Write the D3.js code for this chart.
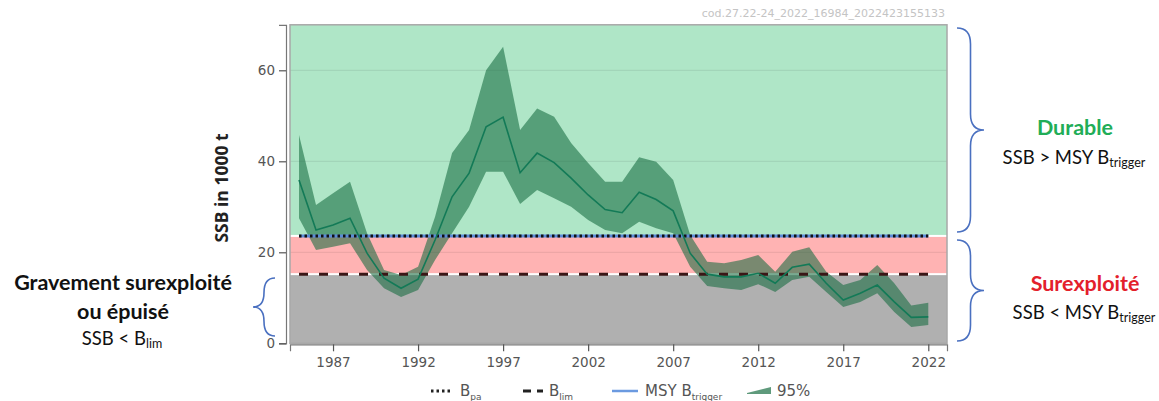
<!DOCTYPE html>
<html>
<head>
<meta charset="utf-8">
<script src="https://cdn.jsdelivr.net/npm/d3@7"></script>
<style>
  body { margin: 0; background: #fff; }
  svg { display: block; }
</style>
</head>
<body>
<svg id="chart"></svg>
<script>
'use strict';

// SSB estimates (1000 t) with 95% bounds
var years = [1985, 1986, 1987, 1988, 1989, 1990, 1991, 1992, 1993, 1994,
             1995, 1996, 1997, 1998, 1999, 2000, 2001, 2002, 2003, 2004,
             2005, 2006, 2007, 2008, 2009, 2010, 2011, 2012, 2013, 2014,
             2015, 2016, 2017, 2018, 2019, 2020, 2021, 2022];
var ssb = [35.9, 24.9, 26.0, 27.5, 19.8, 14.3, 12.1, 14.1, 22.7, 32.2,
           37.4, 47.6, 49.7, 37.5, 41.8, 39.7, 36.3, 32.6, 29.4, 28.7,
           33.2, 31.6, 29.1, 19.8, 15.2, 14.6, 14.6, 15.4, 13.2, 16.7,
           17.4, 13.2, 9.5, 11.0, 12.8, 9.1, 5.7, 5.8];
var ssbLow = [27.5, 20.5, 21.2, 22.0, 16.1, 12.1, 10.2, 11.7, 18.3, 24.2,
              30.0, 37.7, 37.7, 30.6, 33.7, 31.9, 30.0, 27.1, 24.9, 24.2,
              26.7, 25.3, 24.2, 16.8, 12.6, 12.1, 11.7, 13.0, 11.3, 13.9,
              14.6, 11.3, 8.0, 9.1, 11.0, 6.9, 3.6, 4.0];
var ssbHigh = [45.8, 30.4, 33.0, 35.5, 24.2, 16.1, 15.0, 16.8, 27.8, 41.8,
               46.9, 60.0, 65.2, 46.9, 51.6, 49.8, 44.0, 39.6, 35.5, 35.5,
               40.9, 39.9, 35.9, 23.8, 17.9, 17.6, 18.3, 19.4, 15.7, 20.1,
               21.1, 15.7, 12.8, 13.9, 17.2, 13.2, 8.3, 8.9];

// reference points
var bLim = 15.2;
var bPa = 23.6;
var msyBtrigger = 23.6;

var xTicks = [1987, 1992, 1997, 2002, 2007, 2012, 2017, 2022];
var yTicks = [0, 20, 40, 60];

var width = 1159,
    height = 401;

var x = d3.scaleLinear().domain([1984.47, 2023.1]).range([290, 947]);
var y = d3.scaleLinear().domain([0, 70]).range([343.3, 24.8]);

var svg = d3.select("#chart")
            .attr("width", width)
            .attr("height", height);

// watermark
svg.append("text")
    .attr("x", 945).attr("y", 17)
    .attr("text-anchor", "end")
    .style("font", "11px 'DejaVu Sans', sans-serif")
    .style("fill", "#c4c4c4")
    .text("cod.27.22-24_2022_16984_2022423155133");

// status zones
var zones = [
    { lo: bPa, hi: 70, fill: "#afe6c7" },
    { lo: bLim, hi: bPa, fill: "#ffb3b3" },
    { lo: 0, hi: bLim, fill: "#b0b0b0" }
];
svg.selectAll(".zone")
    .data(zones)
  .enter().append("rect")
    .attr("class", "zone")
    .attr("x", x(1984.47))
    .attr("width", x(2023.1) - x(1984.47))
    .attr("y", function(d) { return y(d.hi) + (d.hi < 70 ? 1 : 0); })
    .attr("height", function(d) { return y(d.lo) - y(d.hi) - (d.hi < 70 ? 1 : 0) - (d.lo > 0 ? 1 : 0); })
    .style("fill", function(d) { return d.fill; });

// grid
svg.selectAll(".grid")
    .data(yTicks.slice(1))
  .enter().append("line")
    .attr("class", "grid")
    .attr("x1", x(1984.47)).attr("x2", x(2023.1))
    .attr("y1", function(d) { return y(d); })
    .attr("y2", function(d) { return y(d); })
    .style("stroke", "rgba(0,0,0,0.09)")
    .style("stroke-width", 1);

// frame
svg.append("rect")
    .attr("x", x(1984.47)).attr("y", y(70))
    .attr("width", x(2023.1) - x(1984.47))
    .attr("height", y(0) - y(70))
    .style("fill", "none")
    .style("stroke", "#a8a8a8")
    .style("stroke-width", 1.5);

// confidence band
var area = d3.area()
    .x(function(d, i) { return x(years[i]); })
    .y0(function(d, i) { return y(ssbLow[i]); })
    .y1(function(d, i) { return y(ssbHigh[i]); });

svg.append("path")
    .attr("d", area(years))
    .style("fill", "rgb(20,105,62)")
    .style("fill-opacity", 0.57);

// reference lines
svg.append("line")
    .attr("x1", x(years[0])).attr("x2", x(years[years.length - 1]))
    .attr("y1", y(msyBtrigger)).attr("y2", y(msyBtrigger))
    .style("stroke", "#5b8ad8").style("stroke-width", 3);
svg.append("line")
    .attr("x1", x(years[0])).attr("x2", x(years[years.length - 1]))
    .attr("y1", y(bPa)).attr("y2", y(bPa))
    .style("stroke", "#111").style("stroke-width", 3)
    .style("stroke-dasharray", "2.5,3");
svg.append("line")
    .attr("x1", x(years[0])).attr("x2", x(years[years.length - 1]))
    .attr("y1", y(bLim)).attr("y2", y(bLim))
    .style("stroke", "#3a1616").style("stroke-width", 3)
    .style("stroke-dasharray", "9,11");

// median line
var line = d3.line()
    .x(function(d, i) { return x(years[i]); })
    .y(function(d) { return y(d); });

svg.append("path")
    .attr("d", line(ssb))
    .style("fill", "none")
    .style("stroke", "#137a57")
    .style("stroke-width", 1.6);

// axes
var xAxis = svg.append("g")
    .attr("transform", "translate(0," + (y(0) + 1) + ")")
    .call(d3.axisBottom(x).tickValues(xTicks).tickFormat(d3.format("d")).tickSize(7).tickPadding(6));
var yAxis = svg.append("g")
    .attr("transform", "translate(" + (x(1984.47) - 4) + ",0)")
    .call(d3.axisLeft(y).tickValues(yTicks).tickSize(7).tickPadding(4));

[xAxis, yAxis].forEach(function(a) {
    a.select(".domain").style("stroke", "#777").style("stroke-width", 1.2);
    a.selectAll(".tick line").style("stroke", "#555").style("stroke-width", 1.2);
    a.selectAll("text")
        .style("font-family", "'DejaVu Sans', sans-serif")
        .style("font-size", "13.5px")
        .style("fill", "#555");
});

svg.append("text")
    .attr("transform", "translate(228,188) rotate(-90)")
    .attr("text-anchor", "middle")
    .style("font", "bold 17.5px 'Open Sans', sans-serif")
    .style("fill", "#222")
    .text("SSB in 1000 t");

// legend
var legendY = 391;
var lg = svg.append("g")
    .style("font-family", "'DejaVu Sans', sans-serif")
    .style("font-size", "15px")
    .style("fill", "#555");

lg.append("line").attr("x1", 431).attr("x2", 452).attr("y1", legendY).attr("y2", legendY)
    .style("stroke", "#222").style("stroke-width", 3).style("stroke-dasharray", "2.5,3");
lg.append("line").attr("x1", 523).attr("x2", 543).attr("y1", legendY).attr("y2", legendY)
    .style("stroke", "#222").style("stroke-width", 3).style("stroke-dasharray", "8,6");
lg.append("line").attr("x1", 612).attr("x2", 638).attr("y1", legendY).attr("y2", legendY)
    .style("stroke", "#6b9ae0").style("stroke-width", 2.5);
lg.append("path")
    .attr("d", "M747," + (legendY + 2) + "L771," + (legendY - 4) + "L771," + (legendY + 3) + "L747," + (legendY + 3) + "Z")
    .style("fill", "#5f9a7c");

var legendItems = [
    { x: 460, main: "B", sub: "pa" },
    { x: 549, main: "B", sub: "lim" },
    { x: 645, main: "MSY B", sub: "trigger" },
    { x: 777, main: "95%", sub: "" }
];
legendItems.forEach(function(d) {
    var t = lg.append("text").attr("x", d.x).attr("y", legendY + 5);
    t.append("tspan").text(d.main);
    if (d.sub) {
        t.append("tspan").attr("dy", 4).style("font-size", "9px").text(d.sub);
    }
});

// braces
function brace(x0, y1, y2, depth) {
    var xm = x0 + depth / 2,
        xt = x0 + depth,
        ym = (y1 + y2) / 2,
        r = Math.min(16, (y2 - y1) / 4);
    return "M" + x0 + "," + y1 +
           "Q" + xm + "," + y1 + " " + xm + "," + (y1 + r) +
           "L" + xm + "," + (ym - r) +
           "Q" + xm + "," + ym + " " + xt + "," + ym +
           "Q" + xm + "," + ym + " " + xm + "," + (ym + r) +
           "L" + xm + "," + (y2 - r) +
           "Q" + xm + "," + y2 + " " + x0 + "," + y2;
}

var braces = [
    { x: 957, y1: 28, y2: 232, depth: 27 },
    { x: 957, y1: 240, y2: 341, depth: 27 },
    { x: 275, y1: 278, y2: 336, depth: -22 }
];
svg.selectAll(".brace")
    .data(braces)
  .enter().append("path")
    .attr("class", "brace")
    .attr("d", function(d) { return brace(d.x, d.y1, d.y2, d.depth); })
    .style("fill", "none")
    .style("stroke", "#4a70c0")
    .style("stroke-width", 1.6);

// status annotations
var notes = [
    { x: 1075, y: 135, text: "Durable", sub: "", bold: true, color: "#21ad57" },
    { x: 1074, y: 164, text: "SSB > MSY B", sub: "trigger", bold: false, color: "#111" },
    { x: 1085, y: 291, text: "Surexploité", sub: "", bold: true, color: "#e3202b" },
    { x: 1084, y: 319, text: "SSB < MSY B", sub: "trigger", bold: false, color: "#111" },
    { x: 123, y: 290, text: "Gravement surexploité", sub: "", bold: true, color: "#111" },
    { x: 123, y: 319, text: "ou épuisé", sub: "", bold: true, color: "#111" },
    { x: 122, y: 345, text: "SSB < B", sub: "lim", bold: false, color: "#111" }
];
notes.forEach(function(d) {
    var t = svg.append("text")
        .attr("x", d.x).attr("y", d.y)
        .attr("text-anchor", "middle")
        .style("font-family", "Lato, 'Open Sans', sans-serif")
        .style("font-size", d.bold ? "21.5px" : "18.5px")
        .style("font-weight", d.bold ? "bold" : "normal")
        .style("fill", d.color);
    t.append("tspan").text(d.text);
    if (d.sub) {
        t.append("tspan").attr("dy", 3).style("font-size", "12.5px").text(d.sub);
    }
});
</script>
</body>
</html>
